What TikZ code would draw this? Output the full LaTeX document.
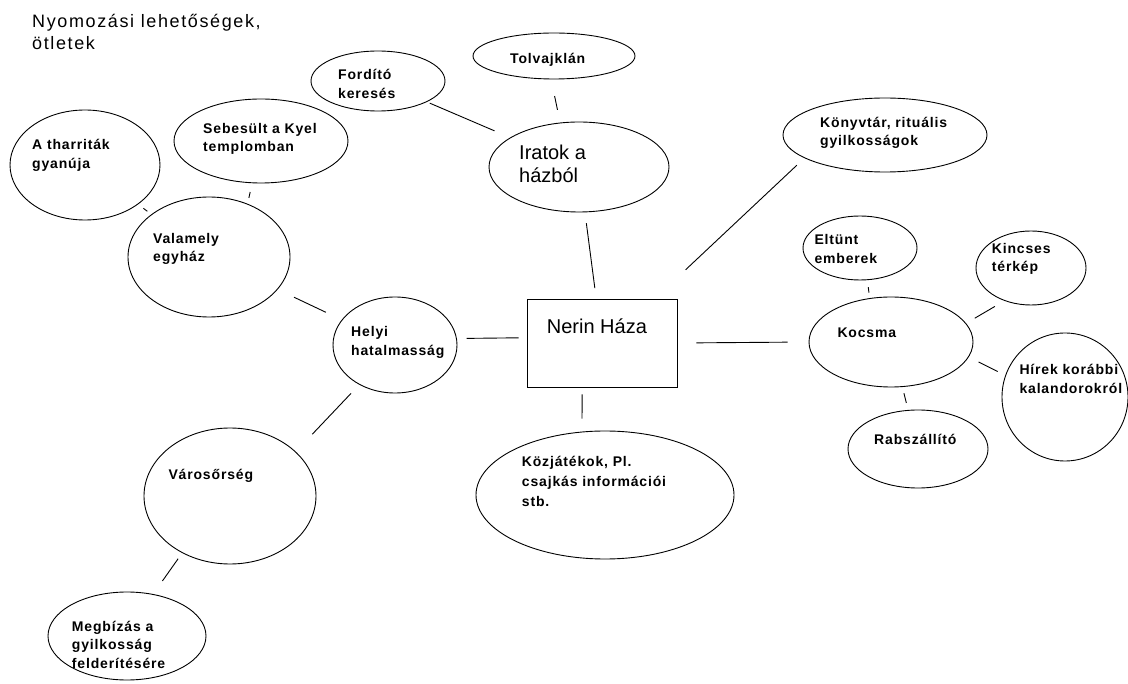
\documentclass[tikz,border=0pt]{standalone}
\usepackage{fontspec}
\setmainfont{Liberation Sans}
\newfontfamily\bubfont[LetterSpace=6]{Liberation Sans}
\newfontfamily\titlefont[LetterSpace=9]{Liberation Sans}
\usepackage{tikz}
\usetikzlibrary{shapes.geometric}

\begin{document}
\begin{tikzpicture}[
    x=1pt, y=-1pt,
    bub/.style={draw, ellipse, inner sep=0pt, line width=0.9pt},
    box/.style={draw, rectangle, inner sep=0pt, line width=0.9pt},
    lbl/.style={
        font=\bubfont\bfseries\fontsize{14}{18.7}\selectfont,
        align=left, inner sep=0pt, anchor=base west
    },
    big/.style={
        font=\fontsize{20}{23.4}\selectfont,
        align=left, inner sep=0pt, anchor=base west
    },
    link/.style={line width=0.9pt},
]

\path[use as bounding box, fill=white] (0,0) rectangle (1128,684);

% Title, top left (anchor = baseline of the last line)
\node[align=left, inner sep=0pt, anchor=base west,
      font=\titlefont\fontsize{18}{22.5}\selectfont] (title) at (32,50)
    {Nyomozási lehetőségek,\\ötletek};

% Bubbles (ellipses), the house in the middle
\node[bub, minimum width=150, minimum height=110] (tharr) at (85,165) {};
\node[bub, minimum width=174, minimum height=84] (sebesult) at (261,141) {};
\node[bub, minimum width=134, minimum height=60] (fordito) at (378,81) {};
\node[bub, minimum width=162, minimum height=46] (tolvaj) at (554,56) {};
\node[bub, minimum width=180, minimum height=90] (iratok) at (579,167) {};
\node[bub, minimum width=204, minimum height=74] (konyvtar) at (885,135) {};
\node[bub, minimum width=162, minimum height=120] (valamely) at (209,257) {};
\node[bub, minimum width=124, minimum height=96] (helyi) at (395,345) {};
\node[box, minimum width=150, minimum height=88] (nerin) at (602,343) {};
\node[bub, minimum width=164, minimum height=90] (kocsma) at (891,342) {};
\node[bub, minimum width=114, minimum height=64] (eltunt) at (860,248) {};
\node[bub, minimum width=110, minimum height=74] (kincses) at (1031,268) {};
\node[bub, minimum width=126, minimum height=128] (hirek) at (1065,397) {};
\node[bub, minimum width=140, minimum height=78] (rabsz) at (918,449) {};
\node[bub, minimum width=258, minimum height=128] (kozjatek) at (605,495) {};
\node[bub, minimum width=172, minimum height=136] (varos) at (230,496) {};
\node[bub, minimum width=158, minimum height=88] (megbizas) at (127,636) {};

% Texts, set to the upper left inside each bubble
% (y = baseline of the last line)
\node[lbl] (tharr-t) at (32,168.7) {A tharriták\\gyanúja};
\node[lbl] (sebesult-t) at (203,152) {Sebesült a Kyel\\templomban};
\node[lbl] (fordito-t) at (338,98.7) {Fordító\\keresés};
\node[lbl] (tolvaj-t) at (510,63.3) {Tolvajklán};
\node[big] (iratok-t) at (519,182.7) {Iratok a\\házból};
\node[lbl] (konyvtar-t) at (820,146) {Könyvtár, rituális\\gyilkosságok};
\node[lbl] (valamely-t) at (153,262) {Valamely\\egyház};
\node[lbl] (helyi-t) at (351,355.4) {Helyi\\hatalmasság};
\node[big] (nerin-t) at (546.7,333.3) {Nerin Háza};
\node[lbl] (kocsma-t) at (837.3,337.3) {Kocsma};
\node[lbl] (eltunt-t) at (814.3,263.7) {Eltünt\\emberek};
\node[lbl] (kincses-t) at (991.7,272) {Kincses\\térkép};
\node[lbl] (hirek-t) at (1019.3,393.7) {Hírek korábbi\\kalandorokról};
\node[lbl] (rabsz-t) at (874,445) {Rabszállító};
\node[lbl, font=\bubfont\bfseries\fontsize{14}{20}\selectfont]
    (kozjatek-t) at (521.7,506.7) {Közjátékok, Pl.\\csajkás információi\\stb.};
\node[lbl] (varos-t) at (168.3,479.3) {Városőrség};
\node[lbl] (megbizas-t) at (71.7,668.5) {Megbízás a\\gyilkosság\\felderítésére};

% Links: short free-standing strokes between the bubbles
\draw[link, shorten <=6.6pt, shorten >=5pt] (tharr) -- (valamely);
\draw[link, shorten <=9pt, shorten >=6pt] (sebesult.-102) -- (valamely.54);
\draw[link, shorten <=3pt, shorten >=17pt] (fordito) -- (iratok);
\draw[link, shorten <=17pt, shorten >=13pt] (tolvaj.-97) -- (iratok.113);
\draw[link, shorten <=11pt, shorten >=10.5pt] (iratok) -- (nerin);
\draw[link, shorten <=10.4pt, shorten >=42pt] (konyvtar.-164) -- (nerin.40);
\draw[link, shorten <=9.7pt, shorten >=8pt] (helyi.6.5) -- (nerin.176);
\draw[link, shorten <=19pt, shorten >=21pt] (nerin.east) -- (kocsma.west);
\draw[link, shorten <=7pt, shorten >=13pt] (nerin.-114) -- (kozjatek.110);
\draw[link, shorten <=18pt, shorten >=17.5pt] (valamely) -- (helyi);
\draw[link, shorten <=12pt, shorten >=24pt] (helyi.-132) -- (varos.34);
\draw[link, shorten <=7pt, shorten >=16pt] (varos.-130.5) -- (megbizas.58);

% Links round the inn
\draw[link, shorten <=7pt, shorten >=5.5pt] (eltunt.-77.6) -- (kocsma.116);
\draw[link, shorten <=11pt, shorten >=10pt] (kincses.-129) -- (kocsma.14);
\draw[link, shorten <=11pt, shorten >=8.5pt] (kocsma.-11) -- (hirek.160);
\draw[link, shorten <=6.4pt, shorten >=7.2pt] (kocsma) -- (rabsz);

\end{tikzpicture}
\end{document}
